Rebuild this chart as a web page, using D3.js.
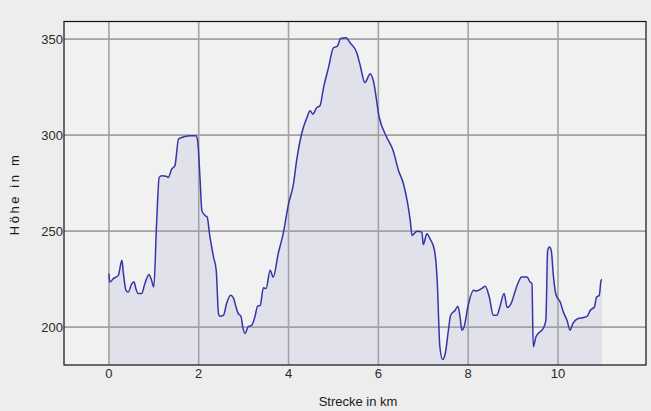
<!DOCTYPE html>
<html>
<head>
<meta charset="utf-8">
<script src="https://cdn.jsdelivr.net/npm/d3@7"></script>
<style>
  html, body { margin: 0; padding: 0; background: #ededed; }
  svg { display: block; font-family: Arial, "Liberation Sans", sans-serif; }
</style>
</head>
<body>
<div id="chart"></div>
<script>
// Strecke (km) und Höhe (m)
const distanceKm = [
  0.00, 0.02, 0.10, 0.21, 0.29, 0.32, 0.38, 0.43, 0.51, 0.56, 0.60, 0.65, 0.73, 0.79, 0.84, 0.89, 0.95, 1.00,
  1.06, 1.12, 1.18, 1.29, 1.32, 1.40, 1.47, 1.55, 1.62, 1.81, 1.94, 1.98, 2.03, 2.07, 2.14, 2.19, 2.24, 2.33,
  2.39, 2.44, 2.47, 2.55, 2.62, 2.71, 2.77, 2.83, 2.88, 2.94, 2.98, 3.03, 3.10, 3.18, 3.25, 3.31, 3.37, 3.44,
  3.50, 3.59, 3.66, 3.77, 3.88, 4.00, 4.11, 4.18, 4.29, 4.41, 4.48, 4.54, 4.63, 4.70, 4.78, 4.89, 5.00, 5.09,
  5.16, 5.28, 5.37, 5.52, 5.59, 5.70, 5.82, 5.89, 6.02, 6.17, 6.33, 6.45, 6.56, 6.71, 6.75, 6.86, 6.97, 7.00,
  7.08, 7.15, 7.25, 7.31, 7.37, 7.43, 7.49, 7.56, 7.61, 7.71, 7.77, 7.82, 7.86, 7.91, 8.00, 8.12, 8.19, 8.30,
  8.38, 8.47, 8.56, 8.64, 8.71, 8.80, 8.87, 8.97, 9.04, 9.12, 9.19, 9.31, 9.38, 9.42, 9.45, 9.51, 9.60, 9.67,
  9.73, 9.77, 9.81, 9.85, 9.90, 9.96, 10.05, 10.12, 10.20, 10.27, 10.33, 10.45, 10.57, 10.65, 10.72, 10.81,
  10.86, 10.92, 10.96, 10.98
];
const elevationM = [
  227.9, 223.5, 225.3, 227.0, 234.8, 228.7, 219.2, 218.3, 222.7, 223.5, 220.1, 217.5, 217.5, 221.8, 225.3, 227.4, 224.4, 220.9,
  253.0, 278.0, 278.9, 278.5, 278.0, 282.4, 284.1, 298.0, 298.8, 299.7, 299.7, 296.2, 277.0, 260.7, 258.2, 257.3, 248.6, 236.5,
  229.6, 207.1, 205.7, 206.2, 212.3, 216.6, 215.4, 210.5, 207.1, 205.7, 200.2, 196.7, 200.2, 201.0, 205.3, 210.9, 211.4, 220.5,
  220.1, 229.6, 226.1, 238.3, 248.6, 264.2, 274.6, 286.7, 300.6, 309.2, 312.7, 311.0, 314.4, 315.3, 324.8, 335.2, 345.5, 346.4,
  350.4, 350.7, 348.1, 342.9, 336.9, 327.4, 332.0, 328.2, 309.2, 299.7, 291.9, 281.5, 274.6, 255.6, 247.8, 250.0, 249.5, 243.0,
  248.6, 246.0, 240.0, 224.4, 189.8, 183.2, 186.3, 198.4, 206.2, 208.8, 210.9, 205.3, 198.4, 200.2, 211.4, 219.2, 218.8, 220.1,
  221.3, 215.7, 206.2, 206.2, 210.9, 217.5, 210.2, 213.1, 218.3, 223.5, 226.1, 226.1, 223.5, 222.7, 189.8, 195.0, 197.6, 199.3,
  203.6, 240.0, 241.7, 240.0, 226.1, 216.6, 213.1, 207.9, 203.6, 198.4, 201.9, 204.5, 205.0, 205.7, 208.8, 210.5,
  215.7, 216.6, 224.4, 224.8
];
const xTicks = [0, 2, 4, 6, 8, 10];
const yTicks = [200, 250, 300, 350];

const width = 651, height = 411;
const margin = { top: 21.5, right: 5, bottom: 46, left: 64 };

const svg = d3.select('#chart').append('svg')
  .attr('width', width)
  .attr('height', height);

svg.append('rect')
  .attr('width', width).attr('height', height)
  .attr('fill', '#ededed');

const x = d3.scaleLinear()
  .domain([-1, 11.96])
  .range([margin.left, width - margin.right]);

const y = d3.scaleLinear()
  .domain([180.3, 359.2])
  .range([height - margin.bottom, margin.top]);

const data = distanceKm.map((d, i) => ({ km: d, m: elevationM[i] }));

// Plotfläche
svg.append('rect')
  .attr('x', x(-1)).attr('y', y(359.2))
  .attr('width', x(11.96) - x(-1))
  .attr('height', y(180.3) - y(359.2))
  .attr('fill', '#f1f1f1');

// Fläche unter dem Profil
const area = d3.area()
  .x(d => x(d.km))
  .y0(y(180.3))
  .y1(d => y(d.m));

svg.append('path')
  .datum(data)
  .attr('d', area)
  .attr('fill', '#e1e1eb');

// Gitter
const grid = svg.append('g');
grid.selectAll('.vx')
  .data(xTicks)
  .enter().append('line')
  .attr('x1', d => x(d)).attr('x2', d => x(d))
  .attr('y1', y(359.2)).attr('y2', y(180.3))
  .attr('stroke', '#a2a2a2')
  .attr('stroke-width', 1.6);

grid.selectAll('.hy')
  .data(yTicks)
  .enter().append('line')
  .attr('x1', x(-1)).attr('x2', x(11.96))
  .attr('y1', d => y(d)).attr('y2', d => y(d))
  .attr('stroke', '#a2a2a2')
  .attr('stroke-width', 1.6);

// Profillinie
const line = d3.line()
  .x(d => x(d.km))
  .y(d => y(d.m))
  .curve(d3.curveMonotoneX);

svg.append('path')
  .datum(data)
  .attr('d', line)
  .attr('fill', 'none')
  .attr('stroke', '#3535a8')
  .attr('stroke-width', 1.5);

// Rahmen
svg.append('rect')
  .attr('x', x(-1)).attr('y', y(359.2))
  .attr('width', x(11.96) - x(-1))
  .attr('height', y(180.3) - y(359.2))
  .attr('fill', 'none')
  .attr('stroke', '#111')
  .attr('stroke-width', 1.2);

// Achsenbeschriftung
svg.append('g').selectAll('text')
  .data(yTicks)
  .enter().append('text')
  .attr('x', margin.left - 1)
  .attr('y', d => y(d) + 4.5)
  .attr('text-anchor', 'end')
  .attr('font-size', 13)
  .attr('fill', '#2a2a2a')
  .text(d => d);

svg.append('g').selectAll('text')
  .data(xTicks)
  .enter().append('text')
  .attr('x', d => x(d))
  .attr('y', y(180.3) + 13)
  .attr('text-anchor', 'middle')
  .attr('font-size', 13)
  .attr('fill', '#2a2a2a')
  .text(d => d);

svg.append('text')
  .attr('x', 358)
  .attr('y', 406)
  .attr('text-anchor', 'middle')
  .attr('font-size', 13)
  .attr('fill', '#1a1a1a')
  .text('Strecke in km');

svg.append('text')
  .attr('transform', 'translate(19,194) rotate(-90)')
  .attr('text-anchor', 'middle')
  .attr('font-size', 13)
  .attr('letter-spacing', 2.6)
  .attr('fill', '#1a1a1a')
  .text('Höhe in m');
</script>
</body>
</html>
